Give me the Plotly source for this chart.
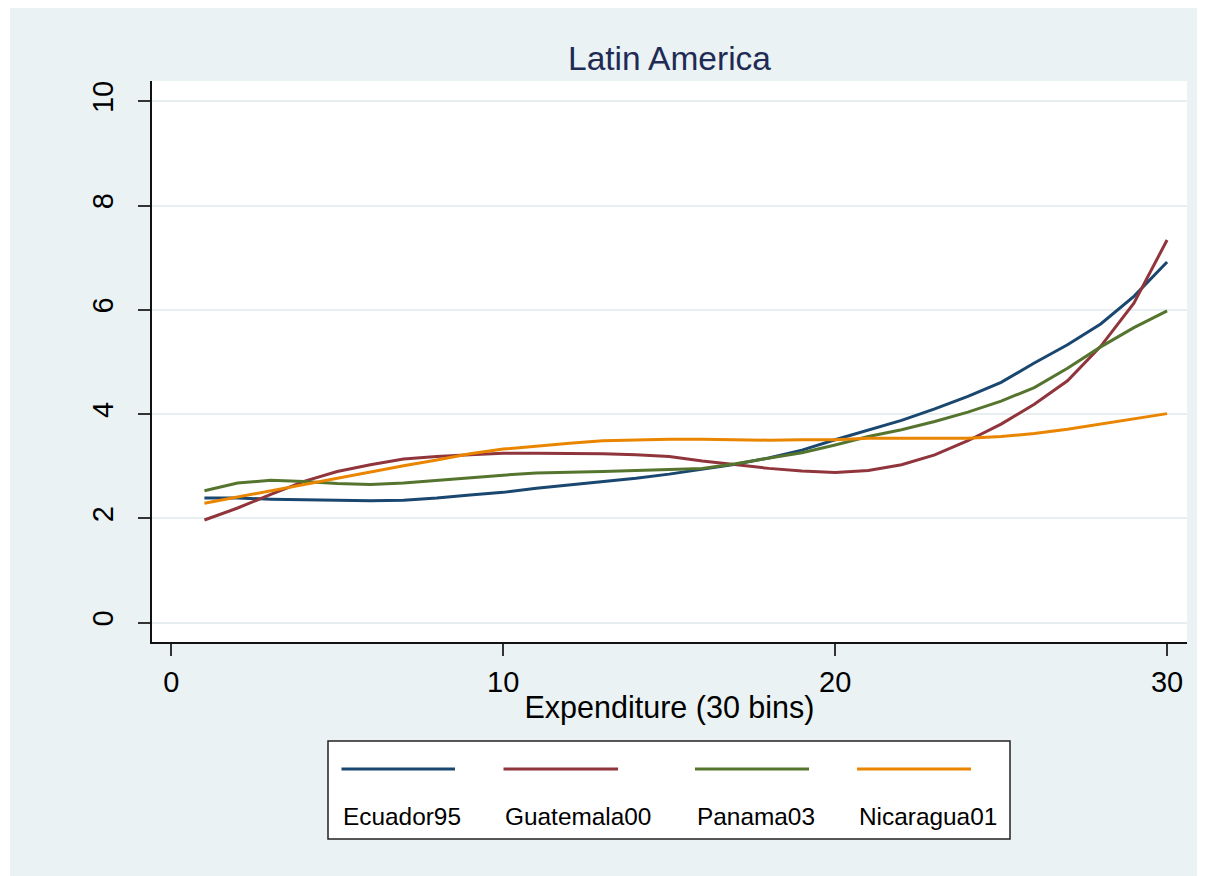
import plotly.graph_objects as go

# ---------------- data ----------------
bins = list(range(1, 31))
series_names = ["Ecuador95", "Guatemala00", "Panama03", "Nicaragua01"]

ecuador95 = [2.39, 2.39, 2.37, 2.36, 2.34, 2.34, 2.35, 2.39, 2.45, 2.50,
             2.58, 2.64, 2.70, 2.77, 2.85, 2.94, 3.04, 3.16, 3.31, 3.51,
             3.69, 3.88, 4.10, 4.34, 4.61, 4.98, 5.33, 5.73, 6.26, 6.92]
guatemala00 = [1.97, 2.20, 2.46, 2.71, 2.90, 3.03, 3.14, 3.19, 3.22, 3.25,
               3.25, 3.25, 3.24, 3.22, 3.19, 3.10, 3.03, 2.96, 2.91, 2.88,
               2.92, 3.03, 3.22, 3.49, 3.81, 4.19, 4.64, 5.30, 6.13, 7.34]
panama03 = [2.53, 2.68, 2.73, 2.71, 2.67, 2.65, 2.68, 2.73, 2.79, 2.83,
            2.87, 2.88, 2.90, 2.92, 2.94, 2.96, 3.05, 3.16, 3.26, 3.41,
            3.57, 3.70, 3.86, 4.04, 4.25, 4.51, 4.88, 5.29, 5.66, 5.98]
nicaragua01 = [2.29, 2.41, 2.53, 2.66, 2.78, 2.90, 3.01, 3.12, 3.24, 3.33,
               3.39, 3.44, 3.49, 3.51, 3.52, 3.52, 3.51, 3.50, 3.51, 3.51,
               3.54, 3.54, 3.54, 3.54, 3.57, 3.63, 3.71, 3.81, 3.92, 4.01]

x_ticks = [0, 10, 20, 30]
y_ticks = [0, 2, 4, 6, 8, 10]

colors = ["#1A476F", "#90353B", "#55752F", "#EA8500"]
all_series = [ecuador95, guatemala00, panama03, nicaragua01]

# ---------------- layout geometry ----------------
# the page body has an 8px margin; the figure fills the rest of the window
OFF = 8
W, H = 1205 - OFF, 876 - OFF
ML, MR, MT, MB = 144, 18, 73, 234
PW, PH = W - ML - MR, H - MT - MB


def px_x(p):
    """screen x pixel -> paper x"""
    return (p - OFF - ML) / PW


def px_y(p):
    """screen y pixel -> paper y"""
    return (H - MB - (p - OFF)) / PH


BG = "#EAF2F3"
FONT = "Liberation Sans, Arial, Helvetica, sans-serif"

fig = go.Figure()
for name, vals, col in zip(series_names, all_series, colors):
    fig.add_trace(go.Scatter(x=bins, y=vals, mode="lines", name=name,
                             line=dict(color=col, width=3),
                             showlegend=False))

shapes = []
# thin white strip at the left edge of the image
shapes.append(dict(type="rect", xref="paper", yref="paper",
                   x0=px_x(OFF - 2), x1=px_x(10), y0=px_y(900), y1=px_y(0),
                   fillcolor="white", line=dict(width=0), layer="below"))

# custom legend box (lines above labels)
shapes.append(dict(type="rect", xref="paper", yref="paper",
                   x0=px_x(328), x1=px_x(1010), y0=px_y(839), y1=px_y(741),
                   fillcolor="white", line=dict(color="#222222", width=1.5)))
legend_line_x = [(341.5, 455), (503.5, 618), (695, 809), (857, 971)]
legend_text_x = [341, 503, 695, 857]
annotations = []
for (a, b), tx, name, col in zip(legend_line_x, legend_text_x, series_names, colors):
    shapes.append(dict(type="line", xref="paper", yref="paper",
                       x0=px_x(a), x1=px_x(b), y0=px_y(769), y1=px_y(769),
                       line=dict(color=col, width=3)))
    annotations.append(dict(text=name, xref="paper", yref="paper",
                            x=px_x(tx), y=px_y(816), xanchor="left",
                            yanchor="middle", showarrow=False,
                            font=dict(family=FONT, size=24.4, color="black")))

fig.update_layout(
    width=W, height=H,
    margin=dict(l=ML, r=MR, t=MT, b=MB, autoexpand=False),
    paper_bgcolor=BG,
    plot_bgcolor="white",
    font=dict(family=FONT, color="black"),
    title=dict(text="Latin America", x=(669.5 - OFF) / W,
               xanchor="center", xref="container",
               y=1 - (58 - OFF) / H, yanchor="middle", yref="container",
               font=dict(family=FONT, size=33.5, color="#1E2B55")),
    shapes=shapes,
    annotations=annotations,
    xaxis=dict(range=[-0.579, 30.6], tickmode="array", tickvals=x_ticks,
               ticktext=[str(t) for t in x_ticks],
               showgrid=False, zeroline=False,
               showline=True, linecolor="#111111", linewidth=1.5,
               ticks="outside", ticklen=12, tickwidth=1.5, tickcolor="#333333",
               tickfont=dict(family=FONT, size=29, color="black"),
               ticklabelstandoff=1,
               title=dict(text="Expenditure (30 bins)", standoff=0,
                          font=dict(family=FONT, size=30.5, color="black")),
               automargin=False, fixedrange=True),
    yaxis=dict(range=[-0.37, 10.39], tickmode="array", tickvals=y_ticks,
               ticktext=[str(t) for t in y_ticks],
               showgrid=True, gridcolor="#E6EEF0", gridwidth=2,
               zeroline=False,
               showline=True, linecolor="#111111", linewidth=1.5,
               ticks="outside", ticklen=12, tickwidth=1.5, tickcolor="#333333",
               tickangle=-90,
               tickfont=dict(family=FONT, size=29, color="black"),
               ticklabelstandoff=14,
               automargin=False, fixedrange=True),
)

fig.write_html("out.html")
